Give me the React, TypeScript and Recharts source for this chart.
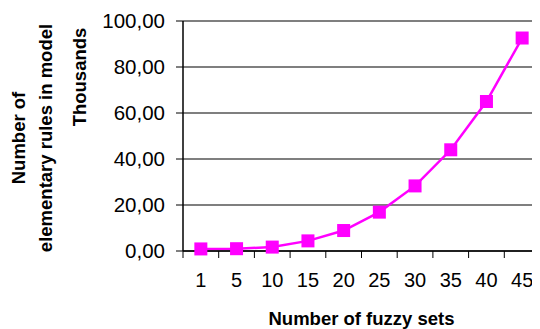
import React from "react";
import { LineChart, Line, XAxis, YAxis, CartesianGrid } from "recharts";

const categories = ["1", "5", "10", "15", "20", "25", "30", "35", "40", "45"];
const rulesThousands = [0.9, 1.0, 1.7, 4.4, 8.9, 16.9, 28.3, 44.0, 65.0, 92.6];
const yTicks = [0, 20, 40, 60, 80, 100];

const data = categories.map((c, i) => ({ name: c, value: rulesThousands[i] }));

const FONT = "'Liberation Sans', Arial, sans-serif";
const PLOT_W = 357;
const BAND = PLOT_W / categories.length;

const XTick = (props: any) => {
  const { x, y, payload, index } = props;
  const last = index === categories.length - 1;
  return (
    <g>
      <line x1={x - BAND / 2} y1={y - 8} x2={x - BAND / 2} y2={y - 1} stroke="#000" strokeWidth={1} />
      {last && <line x1={x + BAND / 2} y1={y - 8} x2={x + BAND / 2} y2={y - 1} stroke="#000" strokeWidth={1} />}
      <text x={x} y={y + 21} textAnchor="middle" dominantBaseline="central" fontSize={20} fontFamily={FONT} fill="#000">
        {payload.value}
      </text>
    </g>
  );
};

const Square = (props: any) => {
  const { cx, cy } = props;
  if (cx == null || cy == null) return null;
  return <rect x={cx - 6.5} y={cy - 6.5} width={13} height={13} fill="#FF00FF" stroke="none" />;
};

const YLabels = () => (
  <g fontFamily={FONT} fontWeight="bold" fontSize={18.5} fill="#000">
    <text x={10} y={130} transform="rotate(-90 10 130)" textAnchor="middle" dominantBaseline="central">Number of</text>
    <text x={37.5} y={130} transform="rotate(-90 37.5 130)" textAnchor="middle" dominantBaseline="central">elementary rules in model</text>
    <text x={71.5} y={69} transform="rotate(-90 71.5 69)" textAnchor="middle" dominantBaseline="central">Thousands</text>
  </g>
);

const XTitle = () => (
  <text x={175 + PLOT_W / 2} y={310} textAnchor="middle" dominantBaseline="central" fontFamily={FONT} fontWeight="bold" fontSize={18.5} fill="#000">
    Number of fuzzy sets
  </text>
);

export default function App() {
  return (
    <div style={{ width: 532, height: 321 }}>
      <LineChart width={532} height={321} data={data} margin={{ top: 13, right: 0, left: 0, bottom: 0 }}>
        <CartesianGrid horizontal vertical={false} stroke="#555" strokeWidth={1.5} />
        <XAxis
          dataKey="name"
          axisLine={{ stroke: "#000", strokeWidth: 1.5 }}
          tickLine={false}
          tick={<XTick />}
          interval={0}
          height={78}
          padding={{ left: BAND / 2, right: BAND / 2 }}
          label={<XTitle />}
        />
        <YAxis
          type="number"
          domain={[0, 100]}
          ticks={yTicks}
          interval={0}
          width={175}
          axisLine={{ stroke: "#000", strokeWidth: 1.5 }}
          tickLine={{ stroke: "#000" }}
          tickSize={7}
          tickMargin={11}
          tickFormatter={(v: number) => v.toFixed(2).replace(".", ",")}
          tick={{ fontSize: 20.5, fontFamily: FONT, fill: "#000" }}
          label={<YLabels />}
        />
        <Line
          type="linear"
          dataKey="value"
          stroke="#FF00FF"
          strokeWidth={2.5}
          dot={<Square />}
          activeDot={false}
          isAnimationActive={false}
        />
      </LineChart>
    </div>
  );
}
